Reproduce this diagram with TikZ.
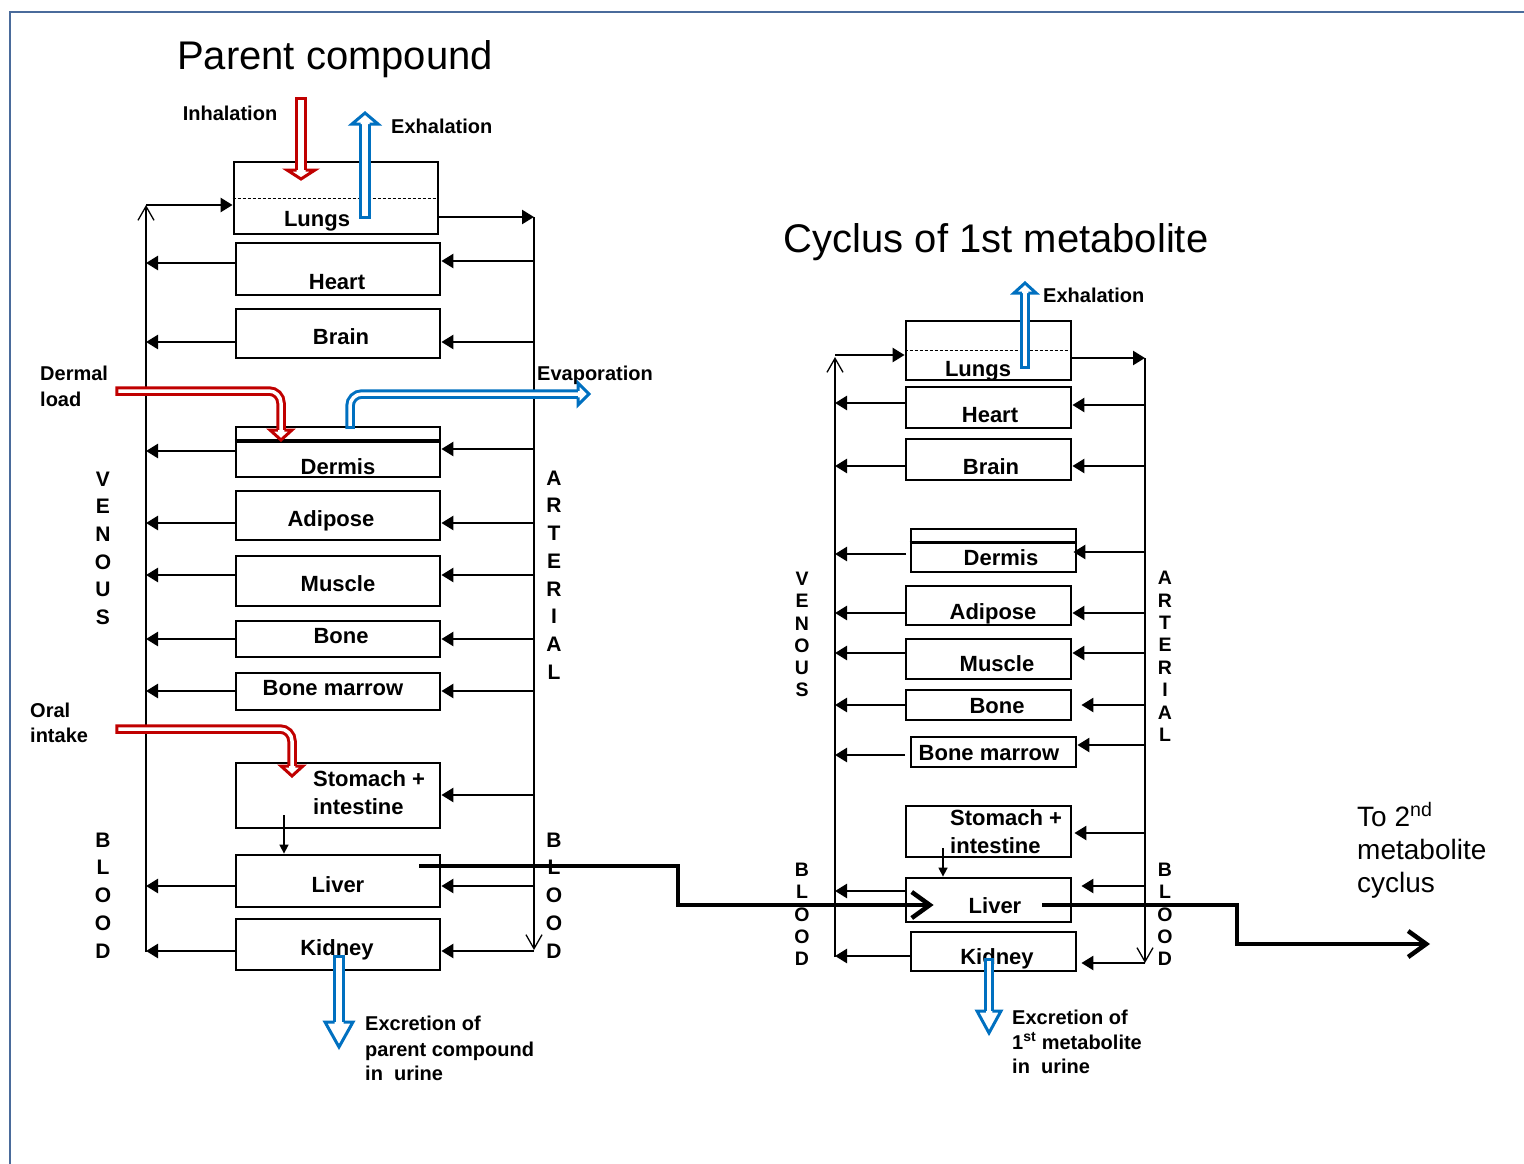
\documentclass[tikz,border=0pt]{standalone}
\usepackage{fontspec}
\setmainfont{Liberation Sans}
\usetikzlibrary{arrows.meta,calc}
\definecolor{redA}{HTML}{C00000}
\definecolor{blueA}{HTML}{0070C0}
\definecolor{frameC}{HTML}{4A6B9B}
% tips: colour, x, y, length, half-width, half-shaft offset
\newcommand\tipD[6]{\filldraw[draw=#1,fill=white,line width=3pt,line join=miter] ({#2-#6},{#3-#4}) -- ({#2-#5},{#3-#4}) -- (#2,#3) -- ({#2+#5},{#3-#4}) -- ({#2+#6},{#3-#4});}
\newcommand\tipU[6]{\filldraw[draw=#1,fill=white,line width=3pt,line join=miter] ({#2-#6},{#3+#4}) -- ({#2-#5},{#3+#4}) -- (#2,#3) -- ({#2+#5},{#3+#4}) -- ({#2+#6},{#3+#4});}
\newcommand\tipR[6]{\filldraw[draw=#1,fill=white,line width=3pt,line join=miter] ({#2-#4},{#3-#6}) -- ({#2-#4},{#3-#5}) -- (#2,#3) -- ({#2-#4},{#3+#5}) -- ({#2-#4},{#3+#6});}
\newcommand\flows[6]{%
  \draw[conn] (#1.west |- 0,#2) -- (#4,#2);
  \draw[conn, shorten >=#6pt] (#5,#3) -- (#1.east |- 0,#3);}
\begin{document}
\begin{tikzpicture}[x=1pt,y=-1pt,
  box/.style={draw, line width=2.8pt, inner sep=0pt},
  lbl/.style={font=\fontsize{22}{26}\selectfont\bfseries, anchor=base, inner sep=0pt},
  lblw/.style={font=\fontsize{22}{26}\selectfont\bfseries, anchor=base west, inner sep=0pt},
  note/.style={font=\fontsize{20}{24}\selectfont\bfseries, anchor=base west, inner sep=0pt},
  letter/.style={font=\fontsize{21}{24}\selectfont\bfseries, inner sep=0pt},
  letterS/.style={font=\fontsize{19.5}{22}\selectfont\bfseries, inner sep=0pt},
  conn/.style={line width=2.5pt, -{Triangle[length=12pt,width=14pt]}},
  vline/.style={line width=1.3pt, -{Straight Barb[length=14pt,width=16pt]}},
  hol/.style={draw=#1, double=white, line width=3pt, double distance=6pt, line cap=rect},
  holthin/.style={draw=#1, double=white, line width=3pt, double distance=3.5pt, line cap=rect},
  fat/.style={line width=4.5pt, -{Straight Barb[length=18pt,width=26pt]}, line join=miter},
  dsh/.style={line width=1pt, dash pattern=on 3pt off 2pt}
]
\useasboundingbox (0,0) rectangle (1524,1164);
\draw[frameC, line width=2.5pt] (10,1164) -- (10,12) -- (1524,12);

% titles
\node[font=\fontsize{40}{48}\selectfont, anchor=base, inner sep=0pt] (title1) at (335,70) {Parent compound};
\node[font=\fontsize{40}{48}\selectfont, anchor=base, inner sep=0pt] (title2) at (996,252) {Cyclus of 1st metabolite};

% ---------------- left cycle ----------------
\node[box, minimum width=204pt, minimum height=72pt] (lungsL) at (336,198) {};
\node[box, minimum width=204pt, minimum height=52pt] (heartL) at (338,269) {};
\node[box, minimum width=204pt, minimum height=49pt] (brainL) at (338,333.5) {};
\node[box, minimum width=204pt, minimum height=50pt] (dermisL) at (338,452) {};
\node[box, minimum width=204pt, minimum height=49pt] (adiposeL) at (338,515.5) {};
\node[box, minimum width=204pt, minimum height=50pt] (muscleL) at (338,581) {};
\node[box, minimum width=204pt, minimum height=36pt] (boneL) at (338,639) {};
\node[box, minimum width=204pt, minimum height=37pt] (marrowL) at (338,691.5) {};
\node[box, minimum width=204pt, minimum height=65pt] (stomachL) at (338,795.5) {};
\node[box, minimum width=204pt, minimum height=52pt] (liverL) at (338,881) {};
\node[box, minimum width=204pt, minimum height=51pt] (kidneyL) at (338,944.5) {};
\draw[dsh] (lungsL.west |- 0,198) -- (lungsL.east |- 0,198);
\draw[line width=4pt] (dermisL.west |- 0,441) -- (dermisL.east |- 0,441);

\node[lbl] (tLungsL) at (317,226) {Lungs};
\node[lbl] (tHeartL) at (337,289) {Heart};
\node[lbl] (tBrainL) at (341,344) {Brain};
\node[lbl] (tDermisL) at (338,474) {Dermis};
\node[lbl] (tAdiposeL) at (331,526) {Adipose};
\node[lbl] (tMuscleL) at (338,591) {Muscle};
\node[lbl] (tBoneL) at (341,643) {Bone};
\node[lbl] (tMarrowL) at (333,695) {Bone marrow};
\node[lblw] (tStomL) at (313,786) {Stomach +};
\node[lblw] (tIntL) at (313,814) {intestine};
\node[lbl] (tLiverL) at (338,892) {Liver};
\node[lbl] (tKidneyL) at (337,955) {Kidney};

\draw[vline] (146,952) -- (146,205);
\draw[vline] (534,217) -- (534,950);
\draw[conn] (146,205) -- (lungsL.west |- 0,205);
\draw[conn] (lungsL.east |- 0,217) -- (534,217);
\flows{heartL}{263}{261}{146}{534}{0}
\flows{brainL}{342}{342}{146}{534}{0}
\flows{dermisL}{451}{449}{146}{534}{0}
\flows{adiposeL}{523}{523}{146}{534}{0}
\flows{muscleL}{575}{575}{146}{534}{0}
\flows{boneL}{639}{639}{146}{534}{0}
\flows{marrowL}{691}{691}{146}{534}{0}
\draw[conn] (534,795) -- (stomachL.east |- 0,795);
\flows{liverL}{886}{886}{146}{534}{0}
\flows{kidneyL}{951}{951}{146}{534}{0}
\draw[line width=1.5pt, -{Triangle[length=9pt,width=9pt]}] (284,815) -- (liverL.north -| 284,0);

\foreach \l [count=\i] in {V,E,N,O,U,S} \node[letter] (venL\i) at (103,{479+27.6*(\i-1)}) {\l};
\foreach \l [count=\i] in {A,R,T,E,R,I,A,L} \node[letter] (artL\i) at (554,{478+27.7*(\i-1)}) {\l};
\foreach \l [count=\i] in {B,L,O,O,D} \node[letter] (bloodLa\i) at (103,{840+27.75*(\i-1)}) {\l};
\foreach \l [count=\i] in {B,L,O,O,D} \node[letter] (bloodLb\i) at (554,{840+27.75*(\i-1)}) {\l};

\node[note, anchor=base] (inh) at (230,120) {Inhalation};
\node[note] (exhL) at (391,133) {Exhalation};
\node[note] (derm1) at (40,380) {Dermal};
\node[note] (derm2) at (40,406) {load};
\node[note] (evap) at (537,380) {Evaporation};
\node[note] (oral1) at (30,717) {Oral};
\node[note] (oral2) at (30,742) {intake};
\node[note] (excL1) at (365,1030) {Excretion of};
\node[note] (excL2) at (365,1056) {parent compound};
\node[note] (excL3) at (365,1080) {in\ \ urine};

\draw[hol=redA] (301,103) -- (301,170); \tipD{redA}{301}{179}{9}{14}{4.5}
\draw[hol=blueA] (365,213) -- (365,124); \tipU{blueA}{365}{113}{11}{13}{4.5}
\draw[holthin=redA, rounded corners=12pt] (120,391) -- (281,391) -- (281,430); \tipD{redA}{281}{440}{10}{11}{3.25}
\draw[holthin=blueA, rounded corners=12pt] (350,424) -- (350,394) -- (578,394); \tipR{blueA}{589}{394}{11}{11}{3.25}
\draw[holthin=redA, rounded corners=12pt] (120,729) -- (292,729) -- (292,766); \tipD{redA}{292}{776}{10}{11}{3.25}
\draw[hol=blueA] (339,961) -- (339,1022); \tipD{blueA}{339}{1047}{25}{14}{4.5}

% ---------------- right cycle ----------------
\node[box, minimum width=165pt, minimum height=59pt] (lungsR) at (988.5,350.5) {};
\node[box, minimum width=165pt, minimum height=41pt] (heartR) at (988.5,407.5) {};
\node[box, minimum width=165pt, minimum height=41pt] (brainR) at (988.5,459.5) {};
\node[box, minimum width=165pt, minimum height=43pt] (dermisR) at (993.5,550.5) {};
\node[box, minimum width=165pt, minimum height=39pt] (adiposeR) at (988.5,605.5) {};
\node[box, minimum width=165pt, minimum height=40pt] (muscleR) at (988.5,659) {};
\node[box, minimum width=165pt, minimum height=30pt] (boneR) at (988.5,705) {};
\node[box, minimum width=165pt, minimum height=30pt] (marrowR) at (993.5,752) {};
\node[box, minimum width=165pt, minimum height=51pt] (stomachR) at (988.5,831.5) {};
\node[box, minimum width=165pt, minimum height=44pt] (liverR) at (988.5,900) {};
\node[box, minimum width=165pt, minimum height=39pt] (kidneyR) at (993.5,951.5) {};
\draw[dsh] (lungsR.west |- 0,350) -- (lungsR.east |- 0,350);
\draw[line width=3pt] (dermisR.west |- 0,542) -- (dermisR.east |- 0,542);

\node[lbl] (tLungsR) at (978,376) {Lungs};
\node[lbl] (tHeartR) at (990,422) {Heart};
\node[lbl] (tBrainR) at (991,474) {Brain};
\node[lbl] (tDermisR) at (1001,565) {Dermis};
\node[lbl] (tAdiposeR) at (993,619) {Adipose};
\node[lbl] (tMuscleR) at (997,671) {Muscle};
\node[lbl] (tBoneR) at (997,713) {Bone};
\node[lbl] (tMarrowR) at (989,760) {Bone marrow};
\node[lblw] (tStomR) at (950,825) {Stomach +};
\node[lblw] (tIntR) at (950,853) {intestine};
\node[lbl] (tLiverR) at (995,913) {Liver};
\node[lbl] (tKidneyR) at (997,964) {Kidney};

\draw[vline] (835,957) -- (835,357);
\draw[vline] (1145,358) -- (1145,963);
\draw[conn] (835,355) -- (lungsR.west |- 0,355);
\draw[conn] (lungsR.east |- 0,358) -- (1145,358);
\flows{heartR}{403}{405}{835}{1145}{0}
\flows{brainR}{466}{466}{835}{1145}{0}
\draw[conn] (906,554) -- (835,554);
\draw[conn, shorten >=-4pt] (1145,552) -- (dermisR.east |- 0,552);
\flows{adiposeR}{613}{613}{835}{1145}{0}
\flows{muscleR}{653}{653}{835}{1145}{0}
\flows{boneR}{705}{705}{835}{1145}{9}
\draw[conn] (905,755) -- (835,755);
\draw[conn] (1145,745) -- (marrowR.east |- 0,745);
\draw[conn, shorten >=2pt] (1145,833) -- (stomachR.east |- 0,833);
\flows{liverR}{891}{886}{835}{1145}{9}
\flows{kidneyR}{956}{963}{835}{1145}{4}
\draw[line width=1.5pt, -{Triangle[length=9pt,width=9pt]}] (943,848) -- (liverR.north -| 943,0);

\foreach \l [count=\i] in {V,E,N,O,U,S} \node[letterS] (venR\i) at (802,{579+22.2*(\i-1)}) {\l};
\foreach \l [count=\i] in {A,R,T,E,R,I,A,L} \node[letterS] (artR\i) at (1165,{578+22.4*(\i-1)}) {\l};
\foreach \l [count=\i] in {B,L,O,O,D} \node[letterS] (bloodRa\i) at (802,{870+22.25*(\i-1)}) {\l};
\foreach \l [count=\i] in {B,L,O,O,D} \node[letterS] (bloodRb\i) at (1165,{870+22.25*(\i-1)}) {\l};

\node[note] (exhR) at (1043,302) {Exhalation};
\node[note] (excR1) at (1012,1024) {Excretion of};
\node[note] (excR2) at (1012,1049) {1\textsuperscript{st} metabolite};
\node[note] (excR3) at (1012,1073) {in\ \ urine};

\draw[holthin=blueA] (1025,364) -- (1025,293); \tipU{blueA}{1025}{283}{10}{11}{3.25}
\draw[holthin=blueA] (989,963) -- (989,1011); \tipD{blueA}{989}{1033}{22}{12}{3.25}

\node[font=\fontsize{28}{33}\selectfont, anchor=base west, inner sep=0pt] (to1) at (1357,826) {To 2\textsuperscript{nd}};
\node[font=\fontsize{28}{33}\selectfont, anchor=base west, inner sep=0pt] (to2) at (1357,859) {metabolite};
\node[font=\fontsize{28}{33}\selectfont, anchor=base west, inner sep=0pt] (to3) at (1357,892) {cyclus};

% metabolite flow
\coordinate (nextC) at (1430,944);
\draw[fat] ($(liverL.east)+(-22,-15)$) -- (678,866) -- (678,905) -- ($(liverR.west)+(29,5)$);
\draw[fat] ($(liverR.east)+(-30,5)$) -- (1237,905) -- (1237,944) -- (nextC);
\end{tikzpicture}
\end{document}
